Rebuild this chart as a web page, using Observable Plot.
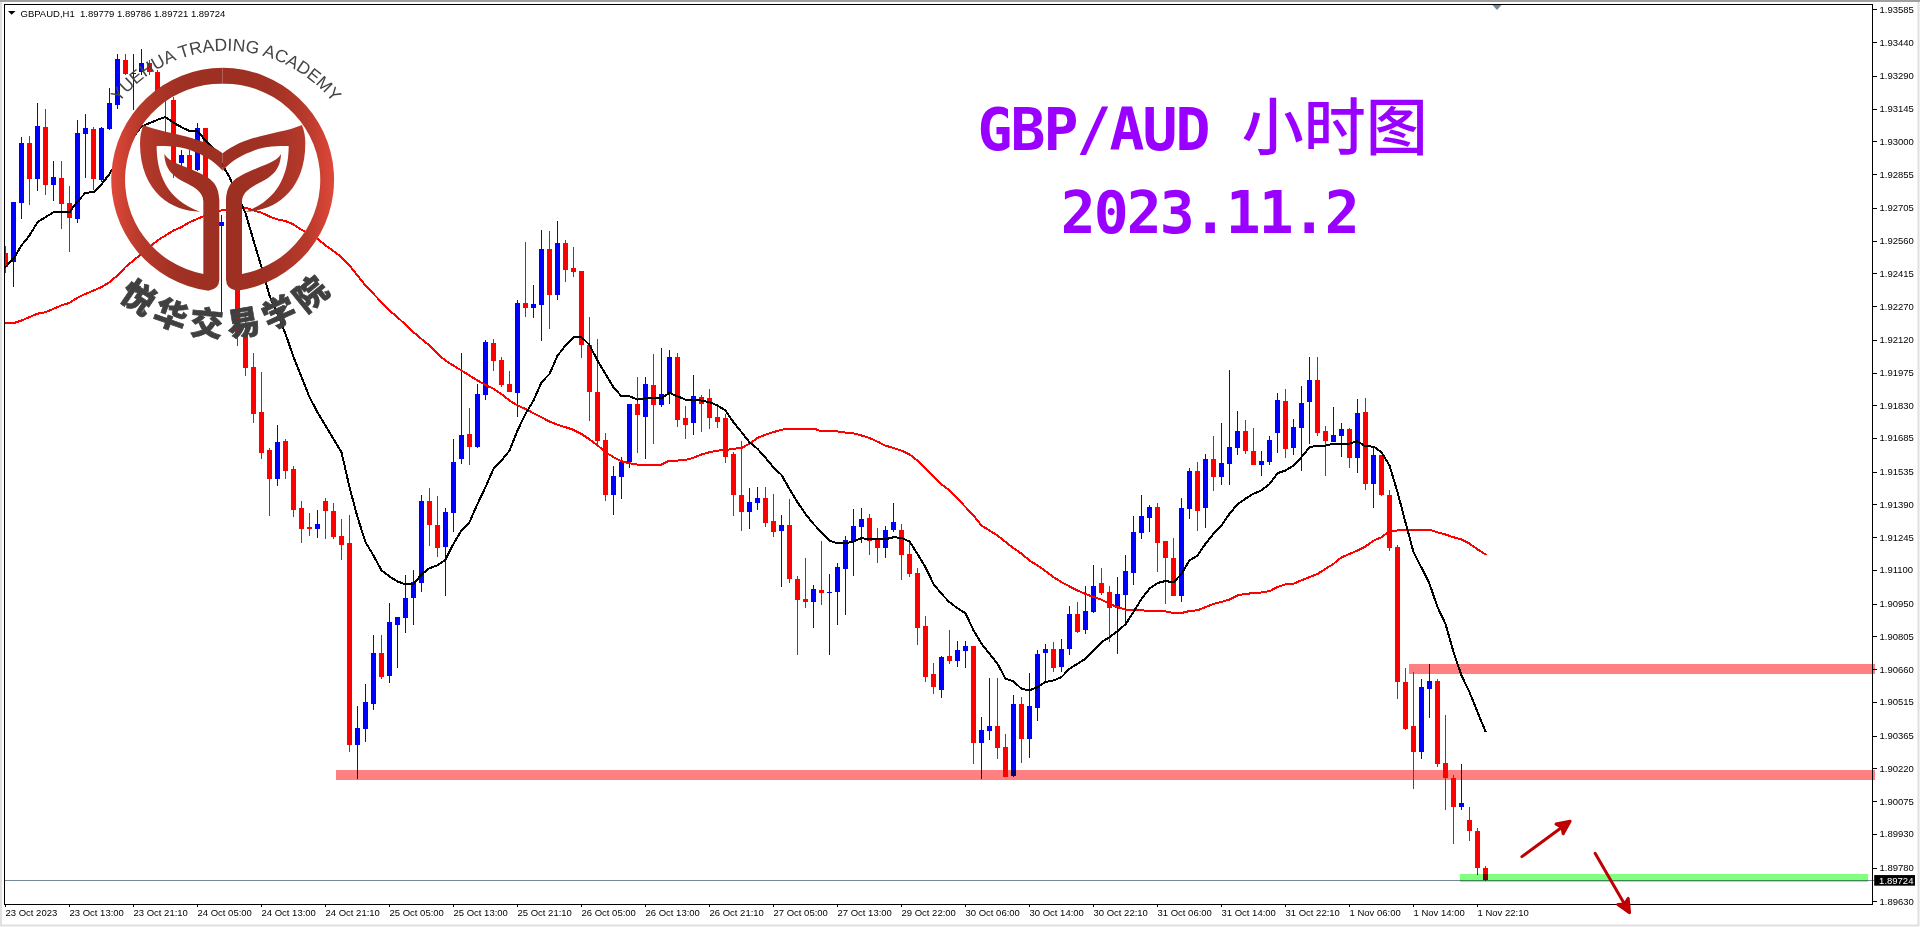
<!DOCTYPE html>
<html>
<head>
<meta charset="utf-8">
<script src="https://cdn.jsdelivr.net/npm/d3@7"></script>
<script src="https://cdn.jsdelivr.net/npm/@observablehq/plot@0.6"></script>
<style>
html,body{margin:0;padding:0;background:#fff;overflow:hidden}
svg{display:block}
.title-a text,.title-b text{letter-spacing:-1.9px}
.title-a tspan{font-size:62px;letter-spacing:0;font-family:"Noto Sans CJK SC";font-weight:500}
</style>
</head>
<body>
<div id="chart"></div>
<script>
// prices are in points (1 point = 0.00001)
const opens=[192504,192467,192728,192991,192833,193064,192807,192838,192727,192656,
193033,193055,192829,193055,193161,193361,193299,193308,193348,193308,
193221,193184,192904,192940,192873,193059,192740,192625,192643,192371,
192146,191999,191800,191631,191503,191671,191547,191375,191290,191281,
191406,191361,191250,191219,190324,190395,190505,190732,190630,190856,
190887,190975,191042,191406,191299,191202,191352,191592,191703,191645,
191876,192106,192031,191924,191885,192284,192261,192275,192523,192319,
192550,192439,192425,192097,191888,191676,191432,191512,191578,191835,
191778,191919,191831,191884,192044,191773,191751,191866,191862,191778,
191773,191614,191432,191356,191396,191418,191316,191272,191299,191059,
190971,190957,191010,190997,191002,191104,191228,191290,191330,191237,
191197,191277,191277,191170,191086,190851,190638,190568,190718,190696,
190741,190763,190333,190386,190408,190315,190187,190506,190351,190488,
190732,190750,190670,190750,190905,190834,190914,191042,191002,190931,
190989,191087,191263,191330,191379,191228,191152,190984,191370,191538,
191374,191591,191512,191569,191640,191716,191627,191565,191578,191707,
191849,191640,191729,191844,191942,191716,191667,191693,191724,191596,
191800,191481,191609,191432,191201,190603,190408,190293,190572,190608,
190244,190177,190049,189991,189942,189779];
const highs=[192536,192731,193021,193024,193169,193144,192913,192913,192802,193095,
193122,193064,193065,193237,193388,193388,193388,193410,193361,193317,
193243,193198,192962,192962,193082,193059,192755,192674,192666,192386,
192230,192060,191977,191640,191742,191680,191560,191406,191352,191366,
191417,191397,191326,191343,190497,190594,190811,190811,190953,190891,
191077,191100,191432,191463,191428,191375,191680,192062,191818,191924,
192120,192124,192044,191982,192297,192554,192363,192607,192603,192647,
192563,192532,192425,192221,192124,191707,191560,191600,191835,191955,
191955,192057,192084,192075,192061,191826,191964,191875,191902,191831,
191791,191622,191671,191463,191467,191467,191436,191343,191414,191073,
191152,191033,191228,191081,191130,191250,191370,191374,191347,191285,
191294,191396,191303,191228,191108,190895,190687,190718,190834,190785,
190785,190763,190448,190621,190621,190373,190546,190537,190643,190745,
190772,190781,190794,190940,190958,191029,191122,191109,191029,191069,
191166,191339,191432,191387,191396,191228,191241,191418,191551,191578,
191614,191693,191751,191986,191804,191764,191729,191627,191693,191884,
191902,191769,191915,192044,192044,191738,191822,191751,191729,191857,
191862,191643,191609,191454,191210,190665,190647,190616,190683,190616,
190457,190191,190240,190049,189956,189786];
const lows=[192415,192356,192656,192718,192782,192762,192736,192612,192510,192638,
192836,192785,192821,193051,193144,193294,193139,193294,193294,193213,
193036,192836,192873,192870,192869,192718,192607,192230,192356,192093,
191960,191751,191591,191339,191472,191503,191335,191219,191250,191242,
191237,191237,191144,190293,190171,190337,190479,190616,190599,190665,
190820,190856,191002,191206,191157,190984,191268,191570,191565,191641,
191854,191982,191911,191889,191778,192221,192217,192115,192168,192297,
192377,192399,192040,191760,191658,191405,191343,191414,191551,191618,
191591,191658,191822,191835,191733,191680,191698,191711,191724,191729,
191574,191339,191272,191281,191365,191290,191246,191024,191042,190723,
190931,190842,190944,190723,190855,190900,191073,191219,191166,191130,
191152,191268,191055,191068,190767,190603,190550,190532,190683,190670,
190665,190240,190173,190346,190262,190182,190182,190244,190266,190430,
190608,190648,190648,190723,190821,190816,190909,190989,190781,190727,
190861,191033,191237,191268,191090,190948,190984,190957,191325,191272,
191285,191449,191476,191476,191609,191614,191565,191516,191565,191618,
191596,191609,191538,191658,191693,191516,191667,191600,191551,191529,
191454,191374,191427,191183,190528,190390,190129,190262,190443,190226,
190036,189885,190036,189898,189747,189721];
const closes=[192445,192731,192991,192835,193068,192807,192842,192722,192660,193037,
193059,192833,193059,193170,193365,193299,193305,193348,193308,193221,
193184,192903,192940,192873,193059,192740,192629,192643,192371,192142,
191995,191791,191618,191503,191667,191538,191366,191281,191281,191304,
191361,191246,191210,190324,190399,190514,190732,190625,190869,190891,
190975,191046,191406,191299,191197,191357,191579,191698,191645,191880,
192111,192026,191920,191889,192284,192261,192279,192523,192319,192550,
192430,192421,192097,191890,191671,191432,191516,191578,191835,191786,
191924,191831,191880,192044,191764,191742,191871,191835,191773,191755,
191600,191432,191356,191401,191418,191308,191268,191299,191059,190966,
190957,191015,190997,191002,191112,191232,191294,191325,191228,191197,
191277,191312,191166,191081,190842,190625,190581,190714,190696,190745,
190763,190333,190390,190408,190311,190182,190506,190351,190497,190727,
190750,190665,190750,190905,190825,190918,191029,190998,190931,190994,
191096,191268,191339,191379,191219,191152,190984,191374,191538,191361,
191591,191512,191574,191645,191716,191627,191565,191582,191676,191853,
191636,191733,191840,191942,191707,191671,191698,191724,191596,191795,
191481,191609,191432,191197,190603,190395,190293,190581,190608,190240,
190177,190049,190067,189942,189778,189724];
const fastMA=[192445,192482,192541,192585,192644,192666,192688,192688,192688,192736,
192774,192777,192811,192858,192918,192969,193021,193068,193083,193098,
193110,193085,193065,193048,193048,193006,192969,192903,192844,192762,
192684,192563,192445,192319,192238,192149,192046,191957,191868,191801,
191742,191683,191624,191469,191336,191225,191166,191100,191073,191051,
191038,191040,191082,191110,191122,191148,191218,191277,191314,191395,
191469,191550,191587,191631,191720,191794,191853,191934,191971,192052,
192097,192134,192134,192100,192030,191971,191912,191872,191872,191857,
191863,191863,191863,191887,191872,191857,191857,191853,191846,191831,
191809,191757,191713,191668,191639,191599,191557,191523,191461,191402,
191350,191306,191269,191232,191220,191220,191228,191243,191238,191237,
191238,191247,191244,191228,191173,191114,191040,190996,190959,190932,
190910,190834,190775,190730,190686,190620,190608,190575,190568,190583,
190605,190612,190627,190664,190686,190708,190745,190782,190804,190831,
190861,190915,190974,191019,191044,191053,191047,191085,191144,191166,
191218,191263,191299,191351,191393,191418,191440,191455,191483,191531,
191543,191565,191602,191646,191653,191653,191662,191662,191662,191673,
191650,191649,191624,191565,191447,191313,191181,191112,191041,190937,
190863,190738,190634,190560,190472,190386];
const slowMA=[192196,192196,192208,192223,192238,192245,192260,192275,192286,192309,
192326,192341,192356,192378,192408,192445,192474,192504,192533,192563,
192585,192607,192622,192644,192659,192674,192688,192696,192699,192703,
192708,192696,192686,192669,192656,192649,192634,192610,192592,192570,
192541,192516,192489,192452,192408,192363,192326,192289,192252,192222,
192190,192156,192126,192097,192060,192030,192008,191986,191964,191942,
191922,191905,191882,191853,191831,191816,191797,191779,191760,191746,
191735,191723,191705,191681,191655,191624,191602,191584,191575,191569,
191569,191569,191569,191587,191587,191590,191599,191614,191624,191631,
191634,191639,191643,191661,191687,191702,191713,191724,191727,191729,
191729,191729,191717,191717,191716,191711,191708,191698,191687,191671,
191653,191643,191631,191614,191587,191550,191516,191481,191455,191418,
191381,191344,191299,191277,191255,191226,191199,191174,191144,191122,
191097,191070,191048,191029,191011,190996,190982,190970,190952,190937,
190926,190923,190923,190920,190920,190918,190911,190911,190920,190923,
190937,190952,190960,190971,190989,190996,190999,191002,191008,191026,
191038,191041,191056,191070,191084,191107,191129,191158,191173,191188,
191206,191232,191247,191274,191277,191278,191280,191280,191280,191269,
191259,191247,191237,191219,191193,191171];
const priceTicks=[1.93585,1.93440,1.93290,1.93145,1.93000,1.92855,1.92705,1.92560,1.92415,1.92270,1.92120,1.91975,1.91830,1.91685,1.91535,1.91390,1.91245,1.91100,1.90950,1.90805,1.90660,1.90515,1.90365,1.90220,1.90075,1.89930,1.89780,1.89630];
const timeLabels=["23 Oct 2023","23 Oct 13:00","23 Oct 21:10","24 Oct 05:00","24 Oct 13:00","24 Oct 21:10","25 Oct 05:00","25 Oct 13:00","25 Oct 21:10","26 Oct 05:00","26 Oct 13:00","26 Oct 21:10","27 Oct 05:00","27 Oct 13:00","29 Oct 22:00","30 Oct 06:00","30 Oct 14:00","30 Oct 22:10","31 Oct 06:00","31 Oct 14:00","31 Oct 22:10","1 Nov 06:00","1 Nov 14:00","1 Nov 22:10"];
const zones=[
 {x1:41.4,x2:233.75,y1:1.90213,y2:1.90168,fill:"#ff8080"},
 {x1:175.5,x2:233.75,y1:1.90683,y2:1.90638,fill:"#ff8080"},
 {x1:181.9,x2:232.9,y1:1.89752,y2:1.89718,fill:"#80ff80"}
];
const lastPrice=1.89724;
const header="GBPAUD,H1  1.89779 1.89786 1.89721 1.89724";

const candles=opens.map((o,i)=>({i,open:o/1e5,high:highs[i]/1e5,low:lows[i]/1e5,close:closes[i]/1e5,dir:closes[i]>=o?"up":"down",
  fast:fastMA[i]/1e5,slow:slowMA[i]/1e5}));

const arrowShape={draw(c,l){
  c.moveTo(0,0);c.lineTo(0,-l+12);
  c.moveTo(-6,-l+14);c.lineTo(0,-l+1);c.lineTo(6,-l+14);c.lineTo(0,-l+11);c.closePath();
}};

const decoration=()=>{
  const g=d3.create("svg:g");
  g.html(`
  <defs><linearGradient id="lg" gradientUnits="userSpaceOnUse" x1="330" x2="668" y1="0" y2="0">
    <stop offset="0" stop-color="#e2493a"/><stop offset=".25" stop-color="#b83a2b"/><stop offset=".6" stop-color="#a03124"/><stop offset="1" stop-color="#9d3022"/>
  </linearGradient></defs>
  <path d="M0 1H1920" stroke="#a0a0a0" stroke-width="2"/>
  <path d="M1 2V925.5H1918.5V2" fill="none" stroke="#e0e0e0" stroke-width="2"/>
  <path d="M8 11H15.5L11.7 14.8Z" fill="#000"/>
  <path d="M1492.5 5H1501.5L1497 10Z" fill="#778899"/>
  <g transform="scale(.33333)">
    <g id="half">
      <path fill="url(#lg)" d="M668 203A336 336 0 0 0 625 872Q658 868 658 838L658 600C655 555 640 540 600 520C550 495 510 490 493 462C495 510 520 530 560 550C590 565 610 580 610 605L610 822A288 288 0 0 1 668 251Z"/>
      <path fill="url(#lg)" d="M430 375C500 405 590 400 668 460L668 512C640 480 610 465 570 450C540 438 500 438 470 438C470 520 500 600 600 635C520 635 420 580 420 430Q420 400 430 375Z"/>
    </g>
    <use href="#half" transform="translate(1336,0) scale(-1,1)"/>
  </g>
  <path id="arcTop" fill="none" d="M114.6 108.7A136 136 0 0 1 337.4 108.7"/>
  <text font-family="Liberation Sans" font-size="17.5" fill="#444"><textPath href="#arcTop" startOffset="50%" text-anchor="middle">YUEHUA TRADING ACADEMY</textPath></text>
  <path id="arcBot" fill="none" d="M102.3 280.4A156.7 156.7 0 0 0 342.3 280.4"/>
  <text font-family="Noto Sans CJK SC" font-weight="900" font-size="33" fill="#404040" stroke="#404040" stroke-width=".7" letter-spacing="7"><textPath href="#arcBot" startOffset="52.5%" text-anchor="middle">悦华交易学院</textPath></text>`);
  return g.node();
};

const plot=Plot.plot({
  width:1920,height:927,marginLeft:4,marginRight:48,marginTop:4,marginBottom:23,
  style:{fontFamily:"Liberation Sans",fontSize:"9.5px",background:"white",color:"black"},
  x:{domain:[-0.125,233.375],axis:null},
  y:{domain:[1.896187,1.93609],axis:null},
  color:{domain:["up","down"],range:["#0000ff","#ff0000"]},
  marks:[
    Plot.ruleY([lastPrice],{x1:-0.125,x2:233.6,stroke:"#778899",shapeRendering:"crispEdges"}),
    Plot.ruleX(candles,{x:"i",y1:"low",y2:"high",stroke:"dir",strokeWidth:1,shapeRendering:"crispEdges",clip:"frame"}),
    Plot.ruleX(candles,{x:"i",y1:"open",y2:"close",stroke:"dir",strokeWidth:5,shapeRendering:"crispEdges",clip:"frame"}),
    Plot.line(candles,{x:"i",y:"slow",stroke:"#ff0000",strokeWidth:2,curve:"linear",shapeRendering:"crispEdges"}),
    Plot.line(candles,{x:"i",y:"fast",stroke:"#000000",strokeWidth:2,curve:"linear",shapeRendering:"crispEdges"}),
    Plot.rect(zones,{x1:"x1",x2:"x2",y1:"y1",y2:"y2",fill:"fill",mixBlendMode:"multiply",shapeRendering:"crispEdges"}),
    Plot.frame({stroke:"black"}),
    Plot.axisY({anchor:"right",ticks:priceTicks,tickFormat:d=>d.toFixed(5),tickSize:4,tickPadding:3,label:null,fontSize:9.5,shapeRendering:"crispEdges"}),
    Plot.axisX({anchor:"bottom",ticks:timeLabels.map((_,k)=>k*8),tickFormat:i=>timeLabels[i/8],tickSize:3,tickPadding:2,label:null,fontSize:9.5,textAnchor:"start",shapeRendering:"crispEdges"}),
    Plot.rect([lastPrice],{x1:233.65,x2:238.75,y1:1.89747,y2:1.89700,fill:"#000"}),
    Plot.text([lastPrice],{x:234.2,y:lastPrice,text:d=>d.toFixed(5),fill:"#fff",textAnchor:"start",fontSize:9.5}),
    Plot.text([header],{frameAnchor:"top-left",dx:16,dy:6,textAnchor:"start",fontSize:9.5,fill:"#000"}),
    Plot.vector([{x:189.55,y:1.89831}],{x:"x",y:"y",length:60.8,rotate:53.7,anchor:"start",shape:arrowShape,stroke:"#c00000",fill:"#c00000",strokeWidth:3}),
    Plot.vector([{x:198.7,y:1.89846}],{x:"x",y:"y",length:69.7,rotate:149.9,anchor:"start",shape:arrowShape,stroke:"#c00000",fill:"#c00000",strokeWidth:3}),
    Plot.text(["GBP/AUD 小时图"],{x:121.5,y:1.92963,text:d=>d,textAnchor:"start",lineAnchor:"bottom",className:"title-a",fill:"#9900ff",fontSize:58,fontWeight:"bold",fontFamily:"DejaVu Sans Mono"}),
    Plot.text(["2023.11.2"],{x:131.9,y:1.92598,text:d=>d,textAnchor:"start",lineAnchor:"bottom",className:"title-b",fill:"#9900ff",fontSize:58,fontWeight:"bold",fontFamily:"DejaVu Sans Mono"}),
    decoration
  ]
});
plot.querySelectorAll(".title-a text").forEach(t=>{
  t.innerHTML='GBP/AUD <tspan>小时图</tspan>';
});
document.getElementById("chart").append(plot);
</script>
</body>
</html>
